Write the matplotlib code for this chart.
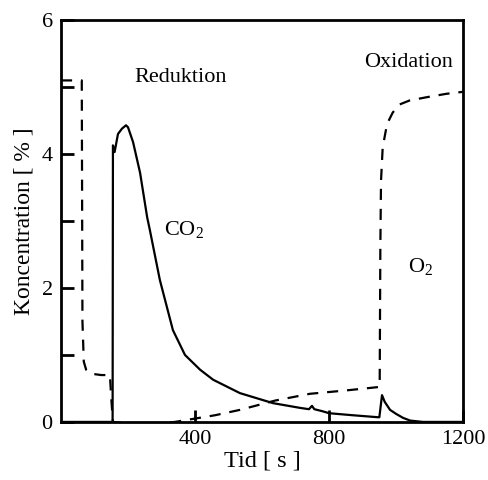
import matplotlib
matplotlib.use("Agg")
import matplotlib.pyplot as plt
from matplotlib.ticker import MultipleLocator

plt.rcParams['font.family'] = ['Liberation Serif', 'DejaVu Serif']
plt.rcParams['mathtext.fontset'] = 'custom'
plt.rcParams['mathtext.rm'] = 'Liberation Serif'
plt.rcParams['mathtext.default'] = 'regular'

# CO2 concentration (solid line), time in s, value in %
co2_t = [0, 148, 154, 155, 160, 170, 182, 194, 200, 215, 236, 257, 265, 295, 334,
         370, 415, 454, 534, 633, 713, 740, 749, 756, 780, 800, 870, 946, 950,
         958, 966, 982, 1000, 1021, 1042, 1080, 1200]
co2_v = [0, 0, 0, 4.13, 4.03, 4.3, 4.38, 4.43, 4.4, 4.18, 3.72, 3.06, 2.87, 2.12,
         1.37, 1.0, 0.78, 0.63, 0.43, 0.28, 0.21, 0.19, 0.24, 0.19, 0.16, 0.13,
         0.1, 0.07, 0.07, 0.4, 0.3, 0.18, 0.12, 0.06, 0.02, 0.0, 0.0]

# O2 concentration (dashed line)
o2_t = [0, 58, 62, 64, 68, 75, 90, 120, 146, 150, 155, 200, 300, 340, 400, 460,
        534, 640, 743, 850, 946, 951, 953, 955, 960, 973, 990, 1010, 1040, 1092,
        1150, 1200]
o2_v = [5.1, 5.1, 5.1, 1.5, 0.9, 0.78, 0.72, 0.70, 0.70, 0.35, 0.0, -0.02, -0.02,
        0.0, 0.05, 0.1, 0.18, 0.32, 0.42, 0.47, 0.52, 0.52, 2.6, 3.6, 4.1, 4.45,
        4.62, 4.74, 4.8, 4.85, 4.9, 4.93]

xticks = [400, 800, 1200]
yticks = [0, 2, 4, 6]

fig = plt.figure(figsize=(4.88, 4.8), dpi=100)
ax = fig.add_axes([0.125, 0.121, 0.824, 0.837])

ax.plot(co2_t, co2_v, color='black', lw=1.6)
ax.plot(o2_t, o2_v, color='black', lw=1.6, dashes=(5, 4))

ax.set_xlim(0, 1200)
ax.set_ylim(0, 6)
ax.set_xticks(xticks)
ax.set_yticks(yticks)
ax.yaxis.set_minor_locator(MultipleLocator(1))
ax.tick_params(axis='both', which='both', direction='in', labelsize=16,
               top=False, right=False, width=2)
ax.tick_params(axis='both', which='major', length=9, pad=6)
ax.tick_params(axis='y', which='minor', length=9)
ax.tick_params(axis='x', which='minor', bottom=False)
for s in ax.spines.values():
    s.set_linewidth(2)

ax.set_xlabel('Tid [ s ]', fontsize=17.5, labelpad=1)
ax.set_ylabel('Koncentration [ % ]', fontsize=17, labelpad=5)

ax.text(357, 5.15, 'Reduktion', fontsize=16, ha='center', va='center')
ax.text(1036, 5.37, 'Oxidation', fontsize=16, ha='center', va='center')
ax.text(366, 2.88, 'CO$_2$', fontsize=16, ha='center', va='center')
ax.text(1074, 2.32, 'O$_2$', fontsize=16, ha='center', va='center')

fig.savefig('out.png', dpi=100)
